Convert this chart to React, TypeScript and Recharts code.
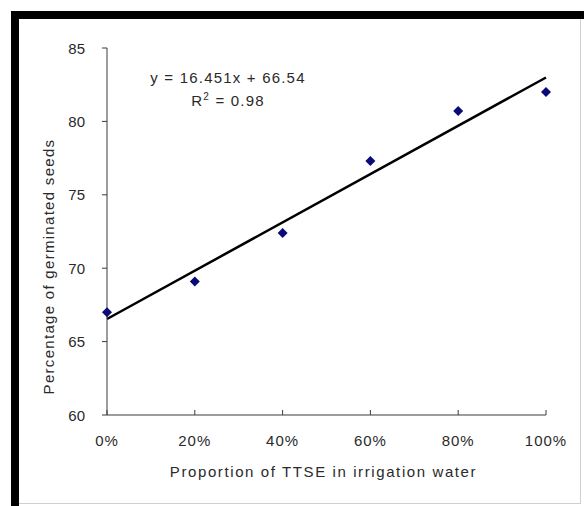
import React from "react";
import { ScatterChart, Scatter, XAxis, YAxis, ReferenceLine } from "recharts";

// proportion of TTSE in irrigation water (fraction) vs % germinated seeds
const proportions = [0, 0.2, 0.4, 0.6, 0.8, 1];
const germinated = [67.0, 69.1, 72.4, 77.3, 80.7, 82.0];
const xTicks = [0, 0.2, 0.4, 0.6, 0.8, 1];
const yTicks = [60, 65, 70, 75, 80, 85];

// linear trend as printed on the chart
const slope = 16.451;
const intercept = 66.54;
const rSquared = 0.98;

const points = proportions.map((p, i) => ({ x: p, y: germinated[i] }));

const font = "'Liberation Sans', Arial, sans-serif";
const axisColor = "#3a3a3a";
const textColor = "#2a2a2a";

const XTick = ({ x, y, payload }: any) => (
  <g>
    <line x1={x} x2={x} y1={y} y2={y - 5} stroke={axisColor} />
    <text
      x={x}
      y={y + 31}
      textAnchor="middle"
      fill={textColor}
      fontSize={15}
      letterSpacing={1}
      fontFamily={font}
    >
      {`${Math.round(payload.value * 100)}%`}
    </text>
  </g>
);

const YTick = ({ x, y, payload }: any) => (
  <g>
    <line x1={x} x2={x - 5} y1={y} y2={y} stroke={axisColor} />
    <text
      x={x - 22}
      y={y + 5.5}
      textAnchor="end"
      fill={textColor}
      fontSize={15}
      fontFamily={font}
    >
      {payload.value}
    </text>
  </g>
);

const XTitle = ({ viewBox }: any) => (
  <text
    x={viewBox.x + viewBox.width / 2 - 3}
    y={viewBox.y + 62}
    textAnchor="middle"
    fill={textColor}
    fontSize={15}
    letterSpacing={1.6}
    fontFamily={font}
  >
    Proportion of TTSE in irrigation water
  </text>
);

const YTitle = ({ viewBox }: any) => {
  const cx = viewBox.x + 54;
  const cy = viewBox.y + viewBox.height / 2 + 35;
  return (
    <text
      x={cx}
      y={cy}
      textAnchor="middle"
      transform={`rotate(-90, ${cx}, ${cy})`}
      fill={textColor}
      fontSize={15}
      letterSpacing={1.3}
      fontFamily={font}
    >
      Percentage of germinated seeds
    </text>
  );
};

const Diamond = ({ cx, cy }: any) => (
  <path
    d={`M${cx},${cy - 5} L${cx + 5},${cy} L${cx},${cy + 5} L${cx - 5},${cy} Z`}
    fill="#0a0a78"
  />
);

export default function App() {
  return (
    <div
      style={{
        position: "absolute",
        left: 0,
        top: 0,
        width: 584,
        height: 506,
        background: "#fff",
        overflow: "hidden",
      }}
    >
      {/* frame */}
      <div style={{ position: "absolute", left: 11, top: 11, width: 573, height: 8, background: "#000" }} />
      <div style={{ position: "absolute", left: 11, top: 11, width: 8, height: 495, background: "#000" }} />
      <div style={{ position: "absolute", left: 580, top: 19, width: 1, height: 484, background: "#cfcfcf" }} />
      <div style={{ position: "absolute", left: 19, top: 503, width: 562, height: 1, background: "#cfcfcf" }} />

      <div style={{ position: "absolute", left: 0, top: 0 }}>
        <ScatterChart
          width={584}
          height={506}
          margin={{ top: 48, right: 38, bottom: 0, left: 0 }}
        >
          <XAxis
            type="number"
            dataKey="x"
            domain={[0, 1]}
            ticks={xTicks}
            tick={<XTick />}
            tickLine={false}
            tickSize={0}
            tickMargin={0}
            height={91}
            axisLine={{ stroke: axisColor }}
            label={<XTitle />}
          />
          <YAxis
            type="number"
            dataKey="y"
            domain={[60, 85]}
            ticks={yTicks}
            tick={<YTick />}
            tickLine={false}
            tickSize={0}
            tickMargin={0}
            width={107}
            axisLine={{ stroke: axisColor }}
            label={<YTitle />}
          />
          <ReferenceLine
            segment={[
              { x: 0, y: intercept },
              { x: 1, y: intercept + slope },
            ]}
            stroke="#000"
            strokeWidth={2.5}
            ifOverflow="visible"
          />
          <Scatter data={points} shape={<Diamond />} isAnimationActive={false} />
        </ScatterChart>
      </div>

      {/* trendline equation */}
      <div
        style={{
          position: "absolute",
          left: 128,
          top: 66,
          width: 200,
          textAlign: "center",
          fontFamily: font,
          fontSize: 15,
          lineHeight: "23px",
          color: textColor,
          letterSpacing: 1.2,
        }}
      >
        <div>{`y = ${slope}x + ${intercept}`}</div>
        <div>
          R<span style={{ fontSize: 10, verticalAlign: "super", lineHeight: 0 }}>2</span>
          {` = ${rSquared.toFixed(2)}`}
        </div>
      </div>
    </div>
  );
}
